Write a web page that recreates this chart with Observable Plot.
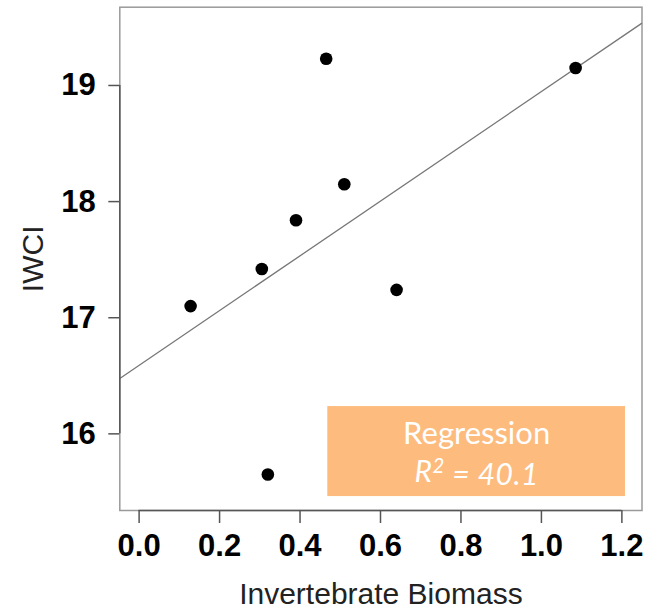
<!DOCTYPE html>
<html>
<head>
<meta charset="utf-8">
<script src="https://cdn.jsdelivr.net/npm/d3@7"></script>
<script src="https://cdn.jsdelivr.net/npm/@observablehq/plot@0.6"></script>
<style>
  html, body { margin: 0; padding: 0; background: #fff; }
</style>
</head>
<body>
<div id="chart"></div>
<script>
// Data
const biomass = [0.128, 0.305, 0.390, 0.465, 0.510, 0.320, 0.640, 1.085];
const iwci    = [17.10, 17.42, 17.84, 19.23, 18.15, 15.65, 17.24, 19.15];
const xTicks = [0, 0.2, 0.4, 0.6, 0.8, 1.0, 1.2];
const yTicks = [16, 17, 18, 19];
const xLabel = "Invertebrate Biomass";
const yLabel = "IWCI";
const boxTitle = "Regression";
const r2Value = "40.1";

const points = biomass.map((x, i) => ({x, y: iwci[i]}));

// least squares fit (drawn across the full plot, like abline)
const mx = d3.mean(biomass), my = d3.mean(iwci);
const sxy = d3.sum(points, p => (p.x - mx) * (p.y - my));
const sxx = d3.sum(points, p => (p.x - mx) ** 2);
const slope = sxy / sxx, intercept = my - slope * mx;

const xDomain = [-0.048, 1.25];
const yDomain = [15.34, 19.674];
const fit = [{x1: xDomain[0], y1: intercept + slope * xDomain[0], x2: xDomain[1], y2: intercept + slope * xDomain[1]}];

const box = [{x1: 0.469, x2: 1.209, y1: 15.46, y2: 16.235}];
const boxCx = (box[0].x1 + box[0].x2) / 2;

const font = "'Liberation Sans', Arial, Helvetica, sans-serif";
const boxFont = "Lato, 'Open Sans', sans-serif";

const chart = Plot.plot({
  width: 646,
  height: 609,
  marginLeft: 119.3,
  marginRight: 4.5,
  marginTop: 6.7,
  marginBottom: 99,
  style: {fontFamily: font, background: "#fff"},
  x: {domain: xDomain},
  y: {domain: yDomain},
  marks: [
    Plot.frame({stroke: "#9a9a9a", strokeWidth: 1.5}),
    Plot.rect(box, {x1: "x1", x2: "x2", y1: "y1", y2: "y2", fill: "#FDBB7E"}),
    Plot.text([boxTitle], {x: boxCx, y: 15.916, text: d => d, fill: "white", fontSize: 31, fontFamily: boxFont, lineAnchor: "bottom", textAnchor: "middle"}),
    Plot.text(["R2 = " + r2Value], {x: boxCx, y: 15.589, text: d => d, fill: "white", fontSize: 30, fontStyle: "italic", fontFamily: boxFont, lineAnchor: "bottom", textAnchor: "middle", className: "r2"}),
    Plot.link(fit, {x1: "x1", y1: "y1", x2: "x2", y2: "y2", stroke: "#777", strokeWidth: 1.3}),
    Plot.dot(points, {x: "x", y: "y", r: 6.3, fill: "black", stroke: "none"}),
    // R-style axis lines spanning first to last tick
    Plot.ruleY([yDomain[0]], {x1: xTicks[0], x2: xTicks[xTicks.length - 1], stroke: "#555", strokeWidth: 1.5}),
    Plot.ruleX([xDomain[0]], {y1: yTicks[0], y2: yTicks[yTicks.length - 1], stroke: "#555", strokeWidth: 1.5}),
    Plot.axisX({ticks: xTicks, tickSize: 13, tickPadding: 10, tickFormat: d3.format(".1f"), fontSize: 31, fontWeight: "bold", fill: "black", stroke: "#555", strokeWidth: 1.5, label: null}),
    Plot.axisY({ticks: yTicks, tickSize: 11, tickPadding: 13, tickFormat: d3.format("d"), fontSize: 31, fontWeight: "bold", fill: "black", stroke: "#555", strokeWidth: 1.5, label: null}),
    Plot.text([xLabel], {frameAnchor: "bottom", dy: 93, text: d => d, lineAnchor: "bottom", textAnchor: "middle", fontSize: 30, fill: "#222"}),
    Plot.text([yLabel], {frameAnchor: "left", dx: -77.3, rotate: -90, text: d => d, lineAnchor: "bottom", textAnchor: "middle", fontSize: 30, fill: "#222"})
  ]
});
document.getElementById("chart").appendChild(chart);

// superscript the 2 in R2 and add a little letter spacing
d3.select(chart).selectAll("g.r2 text").each(function() {
  const t = d3.select(this);
  t.text(null).style("letter-spacing", "0.5px");
  t.append("tspan").text("R");
  t.append("tspan").attr("dy", "-0.4em").attr("font-size", "0.68em").text("2");
  t.append("tspan").attr("dy", "0.4em").text(" = " + r2Value);
});
</script>
</body>
</html>
